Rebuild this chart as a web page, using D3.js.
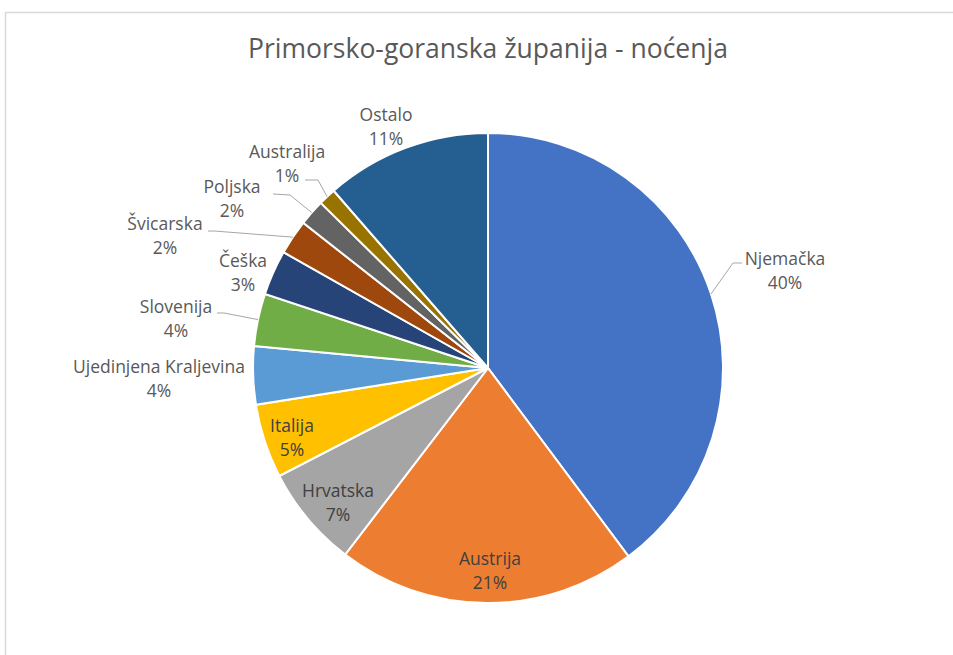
<!DOCTYPE html>
<html>
<head>
<meta charset="utf-8">
<script src="https://cdn.jsdelivr.net/npm/d3@7"></script>
<style>
  body { margin: 0; background: #fff; }
  text { font-family: "Open Sans", "Noto Sans", sans-serif; }
</style>
</head>
<body>
<div id="chart"></div>
<script>
// Data (share of nights, %)
const countries = ["Njemačka", "Austrija", "Hrvatska", "Italija", "Ujedinjena Kraljevina",
    "Slovenija", "Češka", "Švicarska", "Poljska", "Australija", "Ostalo"];
const shares = [39.8, 20.6, 7.0, 5.1, 4.0, 3.6, 3.1, 2.4, 1.8, 1.2, 11.4];
const colors = ["#4472C4", "#ED7D31", "#A5A5A5", "#FFC000", "#5B9BD5",
    "#70AD47", "#264478", "#9E480E", "#636363", "#997300", "#255E91"];

// Label layout (text centre, optional leader elbow/end)
const labelLayout = {
    "Njemačka": { x: 785, y: 258, end: [742, 263], elbow: [733, 263] },
    "Austrija": { x: 490, y: 558, inside: true },
    "Hrvatska": { x: 338, y: 490, inside: true },
    "Italija": { x: 292, y: 425, inside: true },
    "Ujedinjena Kraljevina": { x: 159, y: 366 },
    "Slovenija": { x: 176, y: 306, end: [217, 313], elbow: [224, 313] },
    "Češka": { x: 243, y: 260 },
    "Švicarska": { x: 165, y: 223, end: [208, 231], elbow: [214, 231] },
    "Poljska": { x: 232, y: 186, end: [273, 194], elbow: [290, 195] },
    "Australija": { x: 287, y: 151, end: [305, 180], elbow: [318, 180] },
    "Ostalo": { x: 386, y: 114 }
};

const W = 953, H = 655;
const cx = 488, cy = 368, radius = 235;

const svg = d3.select("#chart").append("svg")
    .attr("width", W)
    .attr("height", H);

// chart border
svg.append("rect")
    .attr("x", 5.5).attr("y", 12.5)
    .attr("width", W + 20).attr("height", H + 20)
    .attr("fill", "none")
    .attr("stroke", "#d9d9d9")
    .attr("stroke-width", 1.5);

svg.append("text")
    .attr("x", cx)
    .attr("y", 58)
    .attr("text-anchor", "middle")
    .attr("font-size", 26.5)
    .attr("fill", "#595959")
    .text("Primorsko-goranska županija - noćenja");

const data = countries.map((c, i) => ({ name: c, value: shares[i], color: colors[i] }));

const pie = d3.pie().value(d => d.value).sort(null);
const arc = d3.arc().innerRadius(0).outerRadius(radius);
const arcs = pie(data);

const g = svg.append("g").attr("transform", "translate(" + cx + "," + cy + ")");

g.selectAll("path")
    .data(arcs)
    .enter()
    .append("path")
    .attr("d", arc)
    .attr("fill", d => d.data.color)
    .attr("stroke", "#fff")
    .attr("stroke-width", 2);

// leader lines
const fmt = v => Math.round(v) + "%";
arcs.forEach(a => {
    const L = labelLayout[a.data.name];
    if (!L.end) return;
    const mid = (a.startAngle + a.endAngle) / 2;
    const sx = cx + radius * Math.sin(mid), sy = cy - radius * Math.cos(mid);
    svg.append("path")
        .attr("d", d3.line()([[sx, sy], L.elbow, L.end]))
        .attr("fill", "none")
        .attr("stroke", "#a6a6a6")
        .attr("stroke-width", 1);
});

// labels
arcs.forEach(a => {
    const L = labelLayout[a.data.name];
    const t = svg.append("text")
        .attr("text-anchor", "middle")
        .attr("font-size", 17.5)
        .attr("fill", L.inside ? "#404040" : "#595959");
    t.append("tspan").attr("x", L.x).attr("y", L.y + 6.5).text(a.data.name);
    t.append("tspan").attr("x", L.x).attr("y", L.y + 31).text(fmt(a.data.value));
});
</script>
</body>
</html>
